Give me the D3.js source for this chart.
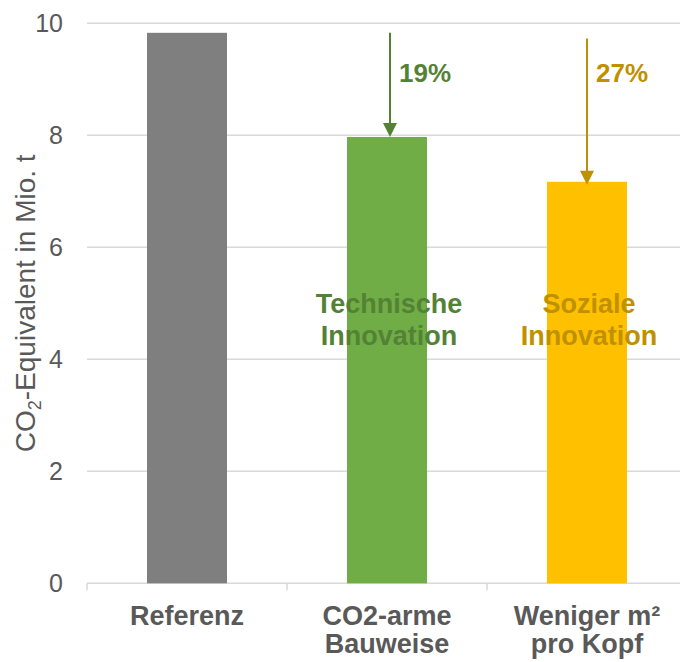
<!DOCTYPE html>
<html>
<head>
<meta charset="utf-8">
<script src="https://cdn.jsdelivr.net/npm/d3@7"></script>
<style>
  html, body { margin: 0; padding: 0; background: #fff; }
  svg { display: block; font-family: "Liberation Sans", Arial, sans-serif; }
</style>
</head>
<body>
<svg id="chart" width="680" height="662"></svg>
<script>
// Scenario categories (each label may span two lines)
const categories = ["Referenz", "CO2-arme\nBauweise", "Weniger m²\npro Kopf"];
// CO2-equivalent in million tonnes
const emissions = [9.83, 7.97, 7.17];
const barColors = ["#7f7f7f", "#70ad47", "#ffc000"];
// Y-axis ticks
const yTicks = [0, 2, 4, 6, 8, 10];
// Reduction annotations: which bar, where the arrow starts, caption inside the bar
const reductionBars = [1, 2];
const arrowStart = [9.83, 9.73];
const innerCaptions = ["Technische\nInnovation", "Soziale\nInnovation"];
const accentColors = ["#548235", "#bf9000"];

const svg = d3.select("#chart");
const textGray = "#595959";
const gridGray = "#d9d9d9";

const y = d3.scaleLinear().domain([0, 10]).range([583.3, 23.3]);
const x = d3.scaleBand().domain(categories).range([87, 687])
  .paddingInner(0.6).paddingOuter(0.3);

// Horizontal gridlines
svg.append("g").selectAll("line").data(yTicks).join("line")
  .attr("x1", 87).attr("x2", 680)
  .attr("y1", d => y(d)).attr("y2", d => y(d))
  .attr("stroke", gridGray).attr("stroke-width", 1.5);

// Category separator ticks below the baseline
const edges = d3.range(categories.length + 1).map(i => x.range()[0] + i * x.step());
svg.append("g").selectAll("line").data(edges).join("line")
  .attr("x1", d => d).attr("x2", d => d)
  .attr("y1", y(0)).attr("y2", y(0) + 7)
  .attr("stroke", gridGray).attr("stroke-width", 1.5);

// Y tick labels
svg.append("g").selectAll("text").data(yTicks).join("text")
  .attr("x", 63).attr("y", d => y(d))
  .attr("dy", "0.36em")
  .attr("text-anchor", "end")
  .attr("font-size", 25)
  .attr("fill", textGray)
  .text(d => d);

// Y axis title with subscript
const yTitle = svg.append("text")
  .attr("transform", `translate(35,${(y(0) + y(10)) / 2}) rotate(-90)`)
  .attr("text-anchor", "middle")
  .attr("font-size", 28)
  .attr("fill", textGray);
yTitle.append("tspan").text("CO");
yTitle.append("tspan").attr("font-size", 18).attr("dy", 6).text("2");
yTitle.append("tspan").attr("dy", -6).text("-Equivalent in Mio. t");

// Bars
svg.append("g").selectAll("rect").data(categories).join("rect")
  .attr("x", d => x(d))
  .attr("y", (d, i) => y(emissions[i]))
  .attr("width", x.bandwidth())
  .attr("height", (d, i) => y(0) - y(emissions[i]))
  .attr("fill", (d, i) => barColors[i]);

// Category labels
const catLabels = svg.append("g").selectAll("text").data(categories).join("text")
  .attr("x", d => x(d) + x.bandwidth() / 2)
  .attr("y", 625)
  .attr("text-anchor", "middle")
  .attr("font-size", 27)
  .attr("font-weight", "bold")
  .attr("fill", textGray);
catLabels.selectAll("tspan").data(d => d.split("\n")).join("tspan")
  .attr("x", function () { return this.parentNode.getAttribute("x"); })
  .attr("dy", (d, i) => i === 0 ? 0 : 28)
  .text(d => d);

// Reduction arrows, percentages and captions
const headLen = 14, headHalf = 7;
reductionBars.forEach((bi, k) => {
  const cat = categories[bi];
  const cx = x(cat) + x.bandwidth() / 2 + (k === 0 ? 3 : 0);
  const y0 = y(arrowStart[k]);
  const y1 = y(emissions[bi]) + (k === 0 ? 0 : 3);
  const col = accentColors[k];

  svg.append("line")
    .attr("x1", cx).attr("x2", cx)
    .attr("y1", y0).attr("y2", y1 - headLen + 1)
    .attr("stroke", col).attr("stroke-width", 2);
  svg.append("path")
    .attr("d", `M${cx - headHalf},${y1 - headLen} L${cx + headHalf},${y1 - headLen} L${cx},${y1} Z`)
    .attr("fill", col);

  const pct = Math.round((1 - emissions[bi] / emissions[0]) * 100);
  svg.append("text")
    .attr("x", cx + 9).attr("y", 82)
    .attr("font-size", 26).attr("font-weight", "bold")
    .attr("fill", col)
    .text(pct + "%");

  const cap = svg.append("text")
    .attr("text-anchor", "middle")
    .attr("font-size", 27).attr("font-weight", "bold")
    .attr("fill", col);
  innerCaptions[k].split("\n").forEach((line, li) => {
    cap.append("tspan")
      .attr("x", x(cat) + x.bandwidth() / 2 + 2)
      .attr("y", 313 + li * 32)
      .text(line);
  });
});
</script>
</body>
</html>
